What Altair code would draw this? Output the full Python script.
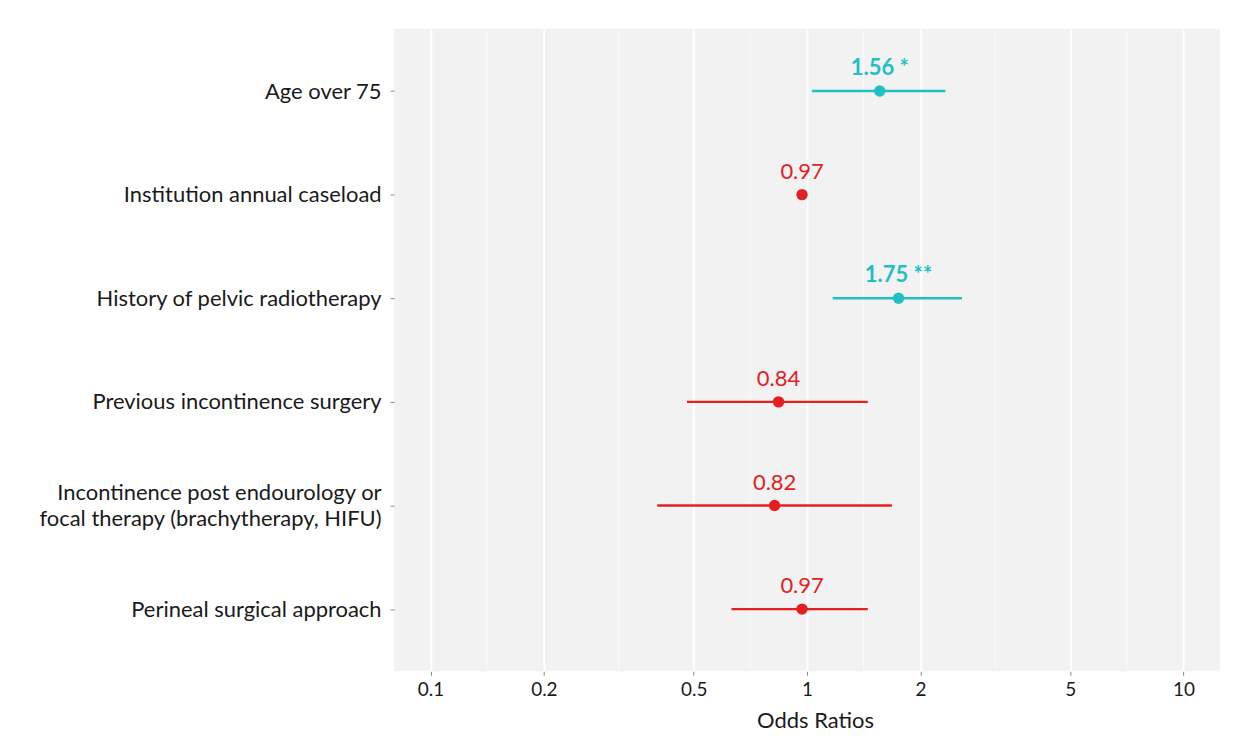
import altair as alt
import pandas as pd

factors = [
    "Age over 75",
    "Institution annual caseload",
    "History of pelvic radiotherapy",
    "Previous incontinence surgery",
    "Incontinence post endourology or|focal therapy (brachytherapy, HIFU)",
    "Perineal surgical approach",
]
odds = [1.56, 0.97, 1.75, 0.84, 0.82, 0.97]
ci_low = [1.03, 0.96, 1.17, 0.48, 0.40, 0.63]
ci_high = [2.33, 0.98, 2.58, 1.45, 1.68, 1.45]
labels = ["1.56 *", "0.97", "1.75 **", "0.84", "0.82", "0.97"]
significance = ["sig", "ns", "sig", "ns", "ns", "ns"]
major_ticks = [0.1, 0.2, 0.5, 1, 2, 5, 10]
minor_ticks = [0.1414, 0.3162, 0.7071, 1.4142, 3.1623, 7.0711]

df = pd.DataFrame({
    "factor": factors, "odds": odds, "lo": ci_low, "hi": ci_high,
    "label": labels, "sig": significance,
})
minor_df = pd.DataFrame({"m": minor_ticks})

FONT = "Lato"
TEAL = "#1FBFC4"
RED = "#E3201F"

xscale = alt.Scale(type="log", domain=[0.08, 12.5], nice=False)
yenc = alt.Y("factor:N", sort=factors, scale=alt.Scale(type="point", padding=0.6),
             axis=alt.Axis(title="", labelFontSize=22, labelFont=FONT, labelColor="#1a1a1a",
                           labelExpr="split(datum.label, '|')", labelLineHeight=27,
                           labelLimit=450,
                           labelOffset={"condition": {"test": "indexof(datum.label, '|') >= 0",
                                                      "value": -13.5},
                                        "value": 0},
                           tickSize=4, tickColor="#888", labelPadding=9, domain=False,
                           gridColor="white", gridWidth=1.6))
color = alt.Color("sig:N", scale=alt.Scale(domain=["sig", "ns"], range=[TEAL, RED]), legend=None)

base = alt.Chart(df)

minor = alt.Chart(minor_df).mark_rule(color="white", strokeWidth=0.8, opacity=0.8).encode(
    x=alt.X("m:Q", scale=xscale)
)

rules = base.mark_rule(strokeWidth=2.3).encode(
    x=alt.X("lo:Q", scale=xscale,
            axis=alt.Axis(title="Odds Ratios", values=major_ticks, format="~g",
                          labelFontSize=19, labelFont=FONT, labelColor="#1a1a1a",
                          titleFontSize=22, titleFont=FONT, titleFontWeight="normal",
                          titleColor="#1a1a1a", titlePadding=11, titleX=422,
                          tickSize=4, tickColor="#888", labelPadding=5, domain=False,
                          gridColor="white", gridWidth=1.8, labelFlush=False)),
    x2="hi:Q",
    y=yenc,
    color=color,
)

points = base.mark_circle(size=130, opacity=1).encode(
    x=alt.X("odds:Q", scale=xscale), y=yenc, color=color
)

text_sig = base.transform_filter(alt.datum.sig == "sig").mark_text(
    dy=-23, fontSize=22, font=FONT, fontWeight="bold"
).encode(x=alt.X("odds:Q", scale=xscale), y=yenc, text="label:N", color=color)

text_ns = base.transform_filter(alt.datum.sig == "ns").mark_text(
    dy=-23, fontSize=22, font=FONT
).encode(x=alt.X("odds:Q", scale=xscale), y=yenc, text="label:N", color=color)

chart = alt.layer(minor, rules, points, text_sig, text_ns).properties(
    width=828, height=644,
    autosize=alt.AutoSizeParams(type="none"),
    padding={"left": 387, "top": 20, "right": 10, "bottom": 70},
    background="white",
).configure_view(fill="#F2F2F2", stroke=None)

chart.save("out.html", embed_options={"renderer": "svg", "actions": False})
